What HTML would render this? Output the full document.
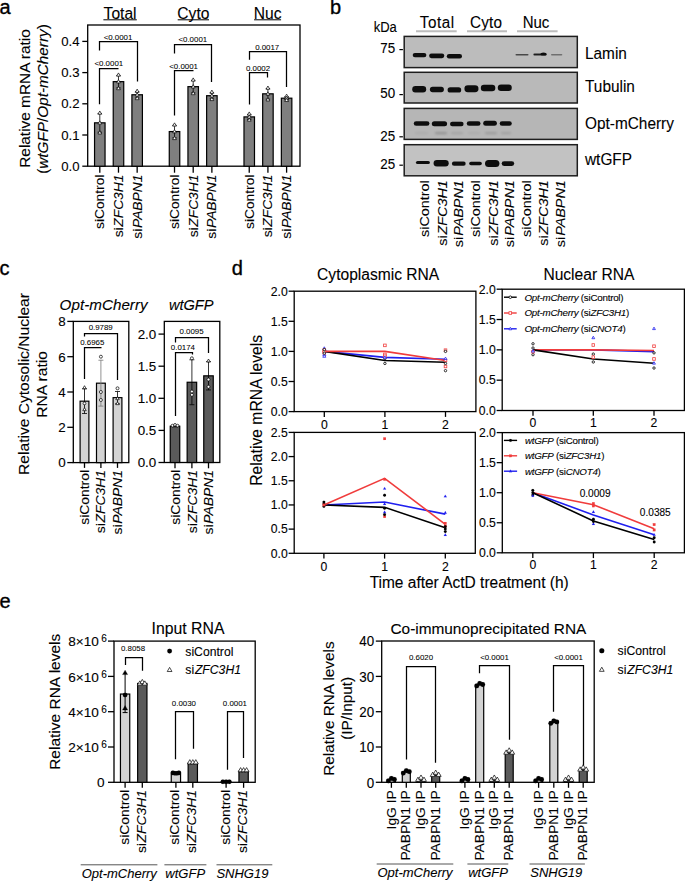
<!DOCTYPE html>
<html><head><meta charset="utf-8"><title>Figure</title>
<style>
html,body{margin:0;padding:0;background:#fff;}
body{width:685px;height:881px;overflow:hidden;}
svg{display:block;font-family:"Liberation Sans",sans-serif;}
text{stroke:#000;stroke-width:0.1px;}
</style></head>
<body>
<svg width="685" height="881" viewBox="0 0 685 881">
<rect x="0" y="0" width="685" height="881" fill="#fff"/>
<text x="-0.6" y="13.8" font-size="20" style="stroke-width:0.35px">a</text>
<rect x="87.7" y="25" width="212.3" height="141.2" fill="none" stroke="#000" stroke-width="1.3" />
<line x1="82.3" y1="166.2" x2="87.7" y2="166.2" stroke="#000" stroke-width="1.3" />
<text x="79.6" y="170.8" font-size="13.2" text-anchor="end" >0.0</text>
<line x1="82.3" y1="135" x2="87.7" y2="135" stroke="#000" stroke-width="1.3" />
<text x="79.6" y="139.6" font-size="13.2" text-anchor="end" >0.1</text>
<line x1="82.3" y1="103.8" x2="87.7" y2="103.8" stroke="#000" stroke-width="1.3" />
<text x="79.6" y="108.4" font-size="13.2" text-anchor="end" >0.2</text>
<line x1="82.3" y1="72.6" x2="87.7" y2="72.6" stroke="#000" stroke-width="1.3" />
<text x="79.6" y="77.2" font-size="13.2" text-anchor="end" >0.3</text>
<line x1="82.3" y1="41.4" x2="87.7" y2="41.4" stroke="#000" stroke-width="1.3" />
<text x="79.6" y="46" font-size="13.2" text-anchor="end" >0.4</text>
<text transform="translate(29.8,98.5) rotate(-90)" font-size="15.4" text-anchor="middle" >Relative mRNA ratio</text>
<text transform="translate(48.2,99) rotate(-90)" font-size="15.3" text-anchor="middle" >(<tspan font-style="italic">wtGFP</tspan>/<tspan font-style="italic">Opt-mCherry</tspan>)</text>
<text x="120.1" y="18.6" font-size="15.6" text-anchor="middle" >Total</text>
<text x="193.4" y="18.6" font-size="15.6" text-anchor="middle" >Cyto</text>
<text x="267.6" y="18.6" font-size="15.6" text-anchor="middle" >Nuc</text>
<line x1="103.4" y1="19.8" x2="136.8" y2="19.8" stroke="#000" stroke-width="1" />
<line x1="177.7" y1="19.8" x2="209" y2="19.8" stroke="#000" stroke-width="1" />
<line x1="254.1" y1="19.8" x2="281.1" y2="19.8" stroke="#000" stroke-width="1" />
<rect x="94.55" y="122.83" width="10.5" height="43.37" fill="#7f7f7f" stroke="#000" stroke-width="1.2" />
<line x1="99.8" y1="113.47" x2="99.8" y2="132.19" stroke="#000" stroke-width="0.8" />
<line x1="97.6" y1="113.47" x2="102" y2="113.47" stroke="#000" stroke-width="0.8" />
<line x1="97.6" y1="132.19" x2="102" y2="132.19" stroke="#000" stroke-width="0.8" />
<polygon points="99.8,110.97 101.7,114.27 97.9,114.27" fill="#fff" stroke="#000" stroke-width="0.7"/>
<polygon points="99.8,120.83 101.7,124.13 97.9,124.13" fill="#fff" stroke="#000" stroke-width="0.7"/>
<polygon points="99.8,130.69 101.7,133.99 97.9,133.99" fill="#fff" stroke="#000" stroke-width="0.7"/>
<line x1="99.8" y1="166.2" x2="99.8" y2="172.7" stroke="#000" stroke-width="1.3" />
<rect x="113.23" y="81.65" width="10.5" height="84.55" fill="#7f7f7f" stroke="#000" stroke-width="1.2" />
<line x1="118.48" y1="75.41" x2="118.48" y2="87.89" stroke="#000" stroke-width="0.8" />
<line x1="116.28" y1="75.41" x2="120.68" y2="75.41" stroke="#000" stroke-width="0.8" />
<line x1="116.28" y1="87.89" x2="120.68" y2="87.89" stroke="#000" stroke-width="0.8" />
<polygon points="118.48,72.91 120.38,76.21 116.58,76.21" fill="#fff" stroke="#000" stroke-width="0.7"/>
<polygon points="118.48,79.65 120.38,82.95 116.58,82.95" fill="#fff" stroke="#000" stroke-width="0.7"/>
<polygon points="118.48,86.39 120.38,89.69 116.58,89.69" fill="#fff" stroke="#000" stroke-width="0.7"/>
<line x1="118.48" y1="166.2" x2="118.48" y2="172.7" stroke="#000" stroke-width="1.3" />
<rect x="131.91" y="94.75" width="10.5" height="71.45" fill="#7f7f7f" stroke="#000" stroke-width="1.2" />
<line x1="137.16" y1="91.63" x2="137.16" y2="97.87" stroke="#000" stroke-width="0.8" />
<line x1="134.96" y1="91.63" x2="139.36" y2="91.63" stroke="#000" stroke-width="0.8" />
<line x1="134.96" y1="97.87" x2="139.36" y2="97.87" stroke="#000" stroke-width="0.8" />
<polygon points="137.16,89.13 139.06,92.43 135.26,92.43" fill="#fff" stroke="#000" stroke-width="0.7"/>
<polygon points="137.16,92.75 139.06,96.05 135.26,96.05" fill="#fff" stroke="#000" stroke-width="0.7"/>
<polygon points="137.16,96.37 139.06,99.67 135.26,99.67" fill="#fff" stroke="#000" stroke-width="0.7"/>
<line x1="137.16" y1="166.2" x2="137.16" y2="172.7" stroke="#000" stroke-width="1.3" />
<rect x="169.27" y="131.57" width="10.5" height="34.63" fill="#7f7f7f" stroke="#000" stroke-width="1.2" />
<line x1="174.52" y1="125.33" x2="174.52" y2="137.81" stroke="#000" stroke-width="0.8" />
<line x1="172.32" y1="125.33" x2="176.72" y2="125.33" stroke="#000" stroke-width="0.8" />
<line x1="172.32" y1="137.81" x2="176.72" y2="137.81" stroke="#000" stroke-width="0.8" />
<polygon points="174.52,122.83 176.42,126.13 172.62,126.13" fill="#fff" stroke="#000" stroke-width="0.7"/>
<polygon points="174.52,129.57 176.42,132.87 172.62,132.87" fill="#fff" stroke="#000" stroke-width="0.7"/>
<polygon points="174.52,136.31 176.42,139.61 172.62,139.61" fill="#fff" stroke="#000" stroke-width="0.7"/>
<line x1="174.52" y1="166.2" x2="174.52" y2="172.7" stroke="#000" stroke-width="1.3" />
<rect x="187.95" y="86.64" width="10.5" height="79.56" fill="#7f7f7f" stroke="#000" stroke-width="1.2" />
<line x1="193.2" y1="80.4" x2="193.2" y2="92.88" stroke="#000" stroke-width="0.8" />
<line x1="191" y1="80.4" x2="195.4" y2="80.4" stroke="#000" stroke-width="0.8" />
<line x1="191" y1="92.88" x2="195.4" y2="92.88" stroke="#000" stroke-width="0.8" />
<polygon points="193.2,77.9 195.1,81.2 191.3,81.2" fill="#fff" stroke="#000" stroke-width="0.7"/>
<polygon points="193.2,84.64 195.1,87.94 191.3,87.94" fill="#fff" stroke="#000" stroke-width="0.7"/>
<polygon points="193.2,91.38 195.1,94.68 191.3,94.68" fill="#fff" stroke="#000" stroke-width="0.7"/>
<line x1="193.2" y1="166.2" x2="193.2" y2="172.7" stroke="#000" stroke-width="1.3" />
<rect x="206.63" y="95.69" width="10.5" height="70.51" fill="#7f7f7f" stroke="#000" stroke-width="1.2" />
<line x1="211.88" y1="92.57" x2="211.88" y2="98.81" stroke="#000" stroke-width="0.8" />
<line x1="209.68" y1="92.57" x2="214.08" y2="92.57" stroke="#000" stroke-width="0.8" />
<line x1="209.68" y1="98.81" x2="214.08" y2="98.81" stroke="#000" stroke-width="0.8" />
<polygon points="211.88,90.07 213.78,93.37 209.98,93.37" fill="#fff" stroke="#000" stroke-width="0.7"/>
<polygon points="211.88,93.69 213.78,96.99 209.98,96.99" fill="#fff" stroke="#000" stroke-width="0.7"/>
<polygon points="211.88,97.31 213.78,100.61 209.98,100.61" fill="#fff" stroke="#000" stroke-width="0.7"/>
<line x1="211.88" y1="166.2" x2="211.88" y2="172.7" stroke="#000" stroke-width="1.3" />
<rect x="243.99" y="116.9" width="10.5" height="49.3" fill="#7f7f7f" stroke="#000" stroke-width="1.2" />
<line x1="249.24" y1="114.41" x2="249.24" y2="119.4" stroke="#000" stroke-width="0.8" />
<line x1="247.04" y1="114.41" x2="251.44" y2="114.41" stroke="#000" stroke-width="0.8" />
<line x1="247.04" y1="119.4" x2="251.44" y2="119.4" stroke="#000" stroke-width="0.8" />
<polygon points="249.24,111.91 251.14,115.21 247.34,115.21" fill="#fff" stroke="#000" stroke-width="0.7"/>
<polygon points="249.24,114.9 251.14,118.2 247.34,118.2" fill="#fff" stroke="#000" stroke-width="0.7"/>
<polygon points="249.24,117.9 251.14,121.2 247.34,121.2" fill="#fff" stroke="#000" stroke-width="0.7"/>
<line x1="249.24" y1="166.2" x2="249.24" y2="172.7" stroke="#000" stroke-width="1.3" />
<rect x="262.67" y="93.82" width="10.5" height="72.38" fill="#7f7f7f" stroke="#000" stroke-width="1.2" />
<line x1="267.92" y1="88.51" x2="267.92" y2="99.12" stroke="#000" stroke-width="0.8" />
<line x1="265.72" y1="88.51" x2="270.12" y2="88.51" stroke="#000" stroke-width="0.8" />
<line x1="265.72" y1="99.12" x2="270.12" y2="99.12" stroke="#000" stroke-width="0.8" />
<polygon points="267.92,86.01 269.82,89.31 266.02,89.31" fill="#fff" stroke="#000" stroke-width="0.7"/>
<polygon points="267.92,91.82 269.82,95.12 266.02,95.12" fill="#fff" stroke="#000" stroke-width="0.7"/>
<polygon points="267.92,97.62 269.82,100.92 266.02,100.92" fill="#fff" stroke="#000" stroke-width="0.7"/>
<line x1="267.92" y1="166.2" x2="267.92" y2="172.7" stroke="#000" stroke-width="1.3" />
<rect x="281.35" y="98.18" width="10.5" height="68.02" fill="#7f7f7f" stroke="#000" stroke-width="1.2" />
<line x1="286.6" y1="96.62" x2="286.6" y2="99.74" stroke="#000" stroke-width="0.8" />
<line x1="284.4" y1="96.62" x2="288.8" y2="96.62" stroke="#000" stroke-width="0.8" />
<line x1="284.4" y1="99.74" x2="288.8" y2="99.74" stroke="#000" stroke-width="0.8" />
<polygon points="286.6,94.12 288.5,97.42 284.7,97.42" fill="#fff" stroke="#000" stroke-width="0.7"/>
<polygon points="286.6,96.18 288.5,99.48 284.7,99.48" fill="#fff" stroke="#000" stroke-width="0.7"/>
<polygon points="286.6,98.24 288.5,101.54 284.7,101.54" fill="#fff" stroke="#000" stroke-width="0.7"/>
<line x1="286.6" y1="166.2" x2="286.6" y2="172.7" stroke="#000" stroke-width="1.3" />
<polyline points="99.5,50.5 99.5,41.5 137.5,41.5 137.5,81.6" fill="none" stroke="#000" stroke-width="1.25" stroke-linejoin="miter"/>
<text x="118" y="39.6" font-size="7.9" text-anchor="middle" style="stroke-width:0.06px" >&lt;0.0001</text>
<polyline points="99.5,104.3 99.5,68.5 118.5,68.5" fill="none" stroke="#000" stroke-width="1.25" stroke-linejoin="miter"/>
<text x="108.8" y="65.9" font-size="7.9" text-anchor="middle" style="stroke-width:0.06px" >&lt;0.0001</text>
<polyline points="174.5,53.5 174.5,44.5 211.5,44.5 211.5,82" fill="none" stroke="#000" stroke-width="1.25" stroke-linejoin="miter"/>
<text x="192.8" y="42" font-size="7.9" text-anchor="middle" style="stroke-width:0.06px" >&lt;0.0001</text>
<polyline points="174.5,115.5 174.5,70.5 193.5,70.5" fill="none" stroke="#000" stroke-width="1.25" stroke-linejoin="miter"/>
<text x="183.6" y="68.6" font-size="7.9" text-anchor="middle" style="stroke-width:0.06px" >&lt;0.0001</text>
<polyline points="249.5,59.7 249.5,51.5 286.5,51.5 286.5,87" fill="none" stroke="#000" stroke-width="1.25" stroke-linejoin="miter"/>
<text x="267.2" y="49.6" font-size="7.9" text-anchor="middle" style="stroke-width:0.06px" >0.0017</text>
<polyline points="249.5,104.4 249.5,72.5 267.5,72.5 267.5,77.6" fill="none" stroke="#000" stroke-width="1.25" stroke-linejoin="miter"/>
<text x="258" y="70.6" font-size="7.9" text-anchor="middle" style="stroke-width:0.06px" >0.0002</text>
<text transform="translate(104.2,174.6) scale(0.87,1) rotate(-90)" font-size="13.8" text-anchor="end" >siControl</text>
<text transform="translate(122.88,174.6) scale(0.87,1) rotate(-90)" font-size="13.8" text-anchor="end" >si<tspan dx="0.7" font-style="italic">ZFC3H1</tspan></text>
<text transform="translate(141.56,174.6) scale(0.87,1) rotate(-90)" font-size="13.8" text-anchor="end" >si<tspan dx="0.7" font-style="italic">PABPN1</tspan></text>
<text transform="translate(178.92,174.6) scale(0.87,1) rotate(-90)" font-size="13.8" text-anchor="end" >siControl</text>
<text transform="translate(197.6,174.6) scale(0.87,1) rotate(-90)" font-size="13.8" text-anchor="end" >si<tspan dx="0.7" font-style="italic">ZFC3H1</tspan></text>
<text transform="translate(216.28,174.6) scale(0.87,1) rotate(-90)" font-size="13.8" text-anchor="end" >si<tspan dx="0.7" font-style="italic">PABPN1</tspan></text>
<text transform="translate(253.64,174.6) scale(0.87,1) rotate(-90)" font-size="13.8" text-anchor="end" >siControl</text>
<text transform="translate(272.32,174.6) scale(0.87,1) rotate(-90)" font-size="13.8" text-anchor="end" >si<tspan dx="0.7" font-style="italic">ZFC3H1</tspan></text>
<text transform="translate(291,174.6) scale(0.87,1) rotate(-90)" font-size="13.8" text-anchor="end" >si<tspan dx="0.7" font-style="italic">PABPN1</tspan></text>
<text x="330" y="14.4" font-size="20" style="stroke-width:0.35px">b</text>
<text transform="translate(373.7,32.4) scale(1,1.14)" font-size="13" >kDa</text>
<text transform="translate(437.3,28) scale(1,1.04)" font-size="15.2" text-anchor="middle" letter-spacing="0.6">Total</text>
<text transform="translate(486,28) scale(1,1.04)" font-size="15.3" text-anchor="middle" letter-spacing="0.2">Cyto</text>
<text transform="translate(536,28) scale(1,1.04)" font-size="15" text-anchor="middle" letter-spacing="0">Nuc</text>
<line x1="416" y1="31.2" x2="456.7" y2="31.2" stroke="#bdbdbd" stroke-width="2" />
<line x1="467" y1="31.2" x2="507" y2="31.2" stroke="#bdbdbd" stroke-width="2" />
<line x1="517" y1="31.2" x2="557.6" y2="31.2" stroke="#bdbdbd" stroke-width="2" />
<rect x="404.2" y="36.4" width="173.1" height="31.2" fill="#bcbcbc" stroke="#1e1e1e" stroke-width="1.5" />
<text transform="translate(585,58.6) scale(1,1.1)" font-size="15.4" >Lamin</text>
<rect x="404.2" y="72.3" width="173.1" height="30.7" fill="#b9b9b9" stroke="#1e1e1e" stroke-width="1.5" />
<text transform="translate(585,92.2) scale(1,1.1)" font-size="15.4" >Tubulin</text>
<rect x="404.2" y="108.4" width="173.1" height="31" fill="#b6b6b6" stroke="#1e1e1e" stroke-width="1.5" />
<text transform="translate(585,128.5) scale(1,1.1)" font-size="15.4" >Opt-mCherry</text>
<rect x="404.2" y="144.7" width="173.1" height="31.1" fill="#c2c2c2" stroke="#1e1e1e" stroke-width="1.5" />
<text transform="translate(585,165.1) scale(1,1.1)" font-size="15.4" >wtGFP</text>
<text transform="translate(395.1,52.6) scale(1,1.12)" font-size="13.4" text-anchor="end" >75</text>
<line x1="399.4" y1="49.6" x2="402.9" y2="49.6" stroke="#000" stroke-width="1.2" />
<text transform="translate(395.1,98.1) scale(1,1.12)" font-size="13.4" text-anchor="end" >50</text>
<line x1="399.4" y1="94.6" x2="402.9" y2="94.6" stroke="#000" stroke-width="1.2" />
<text transform="translate(395.1,140.6) scale(1,1.12)" font-size="13.4" text-anchor="end" >25</text>
<line x1="399.4" y1="136.8" x2="402.9" y2="136.8" stroke="#000" stroke-width="1.2" />
<text transform="translate(395.1,169.2) scale(1,1.12)" font-size="13.4" text-anchor="end" >25</text>
<line x1="399.4" y1="165.2" x2="402.9" y2="165.2" stroke="#000" stroke-width="1.2" />
<defs><filter id="bl" x="-20%" y="-50%" width="140%" height="200%"><feGaussianBlur stdDeviation="0.7"/></filter><filter id="bl2" x="-20%" y="-50%" width="140%" height="200%"><feGaussianBlur stdDeviation="1.0"/></filter></defs>
<rect x="412.7" y="52.9" width="13.7" height="4.4" rx="2.2" fill="#111" opacity="1.0" filter="url(#bl)"/>
<rect x="429.1" y="53.45" width="15.2" height="4.7" rx="2.35" fill="#111" opacity="1.0" filter="url(#bl)"/>
<rect x="446.8" y="53.95" width="15.2" height="4.5" rx="2.25" fill="#111" opacity="1.0" filter="url(#bl)"/>
<rect x="515.5" y="54" width="13" height="1.6" rx="0.8" fill="#222" opacity="0.75" filter="url(#bl)"/>
<rect x="533.4" y="53.55" width="13.2" height="1.9" rx="0.95" fill="#111" opacity="0.9" filter="url(#bl)"/>
<ellipse cx="543.5" cy="54.0" rx="3" ry="1.6" fill="#111" filter="url(#bl)"/>
<rect x="551" y="54.1" width="11.3" height="1.4" rx="0.7" fill="#333" opacity="0.55" filter="url(#bl)"/>
<rect x="412.2" y="86.1" width="14" height="6.4" rx="3.2" fill="#111" opacity="1.0" filter="url(#bl)"/>
<rect x="429.9" y="86.8" width="14" height="5.4" rx="2.7" fill="#111" opacity="1.0" filter="url(#bl)"/>
<rect x="447.6" y="87.3" width="13.6" height="5.2" rx="2.6" fill="#111" opacity="1.0" filter="url(#bl)"/>
<rect x="464.4" y="85.35" width="14.1" height="6.9" rx="3.45" fill="#111" opacity="1.0" filter="url(#bl)"/>
<rect x="480.8" y="84.8" width="14.5" height="6.4" rx="3.2" fill="#111" opacity="1.0" filter="url(#bl)"/>
<rect x="497.8" y="84.5" width="14" height="6.4" rx="3.2" fill="#111" opacity="1.0" filter="url(#bl)"/>
<rect x="413.8" y="121.15" width="15.6" height="4.5" rx="2.25" fill="#111" opacity="1.0" filter="url(#bl)"/>
<rect x="431.8" y="121.3" width="15.3" height="5" rx="2.5" fill="#111" opacity="1.0" filter="url(#bl)"/>
<rect x="450" y="121.8" width="13.6" height="4.4" rx="2.2" fill="#111" opacity="1.0" filter="url(#bl)"/>
<rect x="466.8" y="121.35" width="13.7" height="4.5" rx="2.25" fill="#111" opacity="1.0" filter="url(#bl)"/>
<rect x="483.2" y="120.8" width="13.7" height="5" rx="2.5" fill="#111" opacity="1.0" filter="url(#bl)"/>
<rect x="499.7" y="121.15" width="12.1" height="4.5" rx="2.25" fill="#111" opacity="1.0" filter="url(#bl)"/>
<rect x="415" y="132" width="13" height="2.2" rx="1.1" fill="#444" opacity="0.08" filter="url(#bl2)"/>
<rect x="435" y="132" width="12" height="2.2" rx="1.1" fill="#444" opacity="0.3" filter="url(#bl2)"/>
<rect x="451" y="132" width="12" height="2.2" rx="1.1" fill="#444" opacity="0.15" filter="url(#bl2)"/>
<rect x="468" y="132" width="12" height="2.2" rx="1.1" fill="#444" opacity="0.08" filter="url(#bl2)"/>
<rect x="485" y="132" width="12" height="2.2" rx="1.1" fill="#444" opacity="0.22" filter="url(#bl2)"/>
<rect x="501" y="132" width="10" height="2.2" rx="1.1" fill="#444" opacity="0.18" filter="url(#bl2)"/>
<rect x="415.9" y="160.9" width="14" height="3.2" rx="1.6" fill="#111" opacity="1.0" filter="url(#bl)"/>
<rect x="433.6" y="160" width="15.1" height="6.6" rx="3.3" fill="#111" opacity="1.0" filter="url(#bl)"/>
<rect x="451.9" y="161.6" width="13.8" height="4.2" rx="2.1" fill="#111" opacity="1.0" filter="url(#bl)"/>
<rect x="469.2" y="161.75" width="12.6" height="3.5" rx="1.75" fill="#111" opacity="1.0" filter="url(#bl)"/>
<rect x="485" y="160" width="14.4" height="7" rx="3.5" fill="#111" opacity="1.0" filter="url(#bl)"/>
<rect x="501.7" y="161.3" width="12.5" height="4.6" rx="2.3" fill="#111" opacity="1.0" filter="url(#bl)"/>
<text transform="translate(429.2,180.2) scale(0.86,1) rotate(-90)" font-size="14.4" text-anchor="end" >siControl</text>
<text transform="translate(447.1,180.2) scale(0.86,1) rotate(-90)" font-size="14.4" text-anchor="end" >si<tspan dx="0.9" font-style="italic">ZFC3H1</tspan></text>
<text transform="translate(463.3,180.2) scale(0.86,1) rotate(-90)" font-size="14.4" text-anchor="end" >si<tspan dx="0.9" font-style="italic">PABPN1</tspan></text>
<text transform="translate(480.4,180.2) scale(0.86,1) rotate(-90)" font-size="14.4" text-anchor="end" >siControl</text>
<text transform="translate(497.5,180.2) scale(0.86,1) rotate(-90)" font-size="14.4" text-anchor="end" >si<tspan dx="0.9" font-style="italic">ZFC3H1</tspan></text>
<text transform="translate(513.8,180.2) scale(0.86,1) rotate(-90)" font-size="14.4" text-anchor="end" >si<tspan dx="0.9" font-style="italic">PABPN1</tspan></text>
<text transform="translate(530.9,180.2) scale(0.86,1) rotate(-90)" font-size="14.4" text-anchor="end" >siControl</text>
<text transform="translate(548.2,180.2) scale(0.86,1) rotate(-90)" font-size="14.4" text-anchor="end" >si<tspan dx="0.9" font-style="italic">ZFC3H1</tspan></text>
<text transform="translate(564.5,180.2) scale(0.86,1) rotate(-90)" font-size="14.4" text-anchor="end" >si<tspan dx="0.9" font-style="italic">PABPN1</tspan></text>
<text x="-0.6" y="275.1" font-size="20" style="stroke-width:0.35px">c</text>
<text transform="translate(29.4,384) scale(0.92,1) rotate(-90)" font-size="15.6" text-anchor="middle" >Relative Cytosolic/Nuclear</text>
<text transform="translate(47.3,384.5) scale(0.9,1) rotate(-90)" font-size="15.6" text-anchor="middle" >RNA ratio</text>
<text x="59.6" y="310.4" font-size="15.2" textLength="88"><tspan font-style="italic">Opt-mCherry</tspan></text>
<rect x="73.3" y="321.4" width="55.5" height="141.2" fill="none" stroke="#000" stroke-width="1.3" />
<line x1="67.3" y1="462.6" x2="73.3" y2="462.6" stroke="#000" stroke-width="1.3" />
<text x="65.8" y="467.4" font-size="13.4" text-anchor="end" >0</text>
<line x1="67.3" y1="427.3" x2="73.3" y2="427.3" stroke="#000" stroke-width="1.3" />
<text x="65.8" y="432.1" font-size="13.4" text-anchor="end" >2</text>
<line x1="67.3" y1="392" x2="73.3" y2="392" stroke="#000" stroke-width="1.3" />
<text x="65.8" y="396.8" font-size="13.4" text-anchor="end" >4</text>
<line x1="67.3" y1="356.7" x2="73.3" y2="356.7" stroke="#000" stroke-width="1.3" />
<text x="65.8" y="361.5" font-size="13.4" text-anchor="end" >6</text>
<line x1="67.3" y1="321.4" x2="73.3" y2="321.4" stroke="#000" stroke-width="1.3" />
<text x="65.8" y="326.2" font-size="13.4" text-anchor="end" >8</text>
<rect x="80.1" y="401.18" width="8.8" height="61.42" fill="#d3d3d3" stroke="#000" stroke-width="1.2" />
<line x1="84.5" y1="388.82" x2="84.5" y2="413.53" stroke="#000" stroke-width="0.8" />
<line x1="82" y1="388.82" x2="87" y2="388.82" stroke="#000" stroke-width="0.8" />
<line x1="82" y1="413.53" x2="87" y2="413.53" stroke="#000" stroke-width="0.8" />
<line x1="84.5" y1="462.6" x2="84.5" y2="467.9" stroke="#000" stroke-width="1.3" />
<rect x="96.5" y="383.18" width="8.8" height="79.43" fill="#d3d3d3" stroke="#000" stroke-width="1.2" />
<line x1="100.9" y1="360.23" x2="100.9" y2="406.12" stroke="#777" stroke-width="0.8" />
<line x1="98.4" y1="360.23" x2="103.4" y2="360.23" stroke="#777" stroke-width="0.8" />
<line x1="98.4" y1="406.12" x2="103.4" y2="406.12" stroke="#777" stroke-width="0.8" />
<line x1="100.9" y1="462.6" x2="100.9" y2="467.9" stroke="#000" stroke-width="1.3" />
<rect x="113.1" y="397.65" width="8.8" height="64.95" fill="#d3d3d3" stroke="#000" stroke-width="1.2" />
<line x1="117.5" y1="391.47" x2="117.5" y2="403.83" stroke="#000" stroke-width="0.8" />
<line x1="115" y1="391.47" x2="120" y2="391.47" stroke="#000" stroke-width="0.8" />
<line x1="115" y1="403.83" x2="120" y2="403.83" stroke="#000" stroke-width="0.8" />
<line x1="117.5" y1="462.6" x2="117.5" y2="467.9" stroke="#000" stroke-width="1.3" />
<polygon points="84.5,385.7 86.21,388.67 82.79,388.67" fill="#fff" stroke="#000" stroke-width="0.7"/>
<circle cx="84.5" cy="403.4" r="1.4" fill="#fff" stroke="#000" stroke-width="0.7"/>
<polygon points="84.5,407.7 86.21,410.67 82.79,410.67" fill="#fff" stroke="#000" stroke-width="0.7"/>
<circle cx="100.9" cy="356.7" r="1.5" fill="#fff" stroke="#000" stroke-width="0.7"/>
<circle cx="100.9" cy="392" r="1.5" fill="#fff" stroke="#000" stroke-width="0.7"/>
<circle cx="100.9" cy="400" r="1.5" fill="#fff" stroke="#000" stroke-width="0.7"/>
<circle cx="117.5" cy="388.3" r="1.5" fill="#fff" stroke="#000" stroke-width="0.7"/>
<polygon points="117.5,396.7 119.21,399.67 115.79,399.67" fill="#fff" stroke="#000" stroke-width="0.7"/>
<polygon points="117.5,401.7 119.21,404.67 115.79,404.67" fill="#fff" stroke="#000" stroke-width="0.7"/>
<polyline points="84.5,336.5 84.5,333.5 117.5,333.5 117.5,380" fill="none" stroke="#000" stroke-width="1.25" stroke-linejoin="miter"/>
<text x="100.7" y="329.6" font-size="7.9" text-anchor="middle" style="stroke-width:0.06px" >0.9789</text>
<polyline points="84.5,378.9 84.5,347.5 101.5,347.5" fill="none" stroke="#000" stroke-width="1.25" stroke-linejoin="miter"/>
<text x="92.3" y="344.8" font-size="7.9" text-anchor="middle" style="stroke-width:0.06px" >0.6965</text>
<text transform="translate(88.8,470) scale(0.87,1) rotate(-90)" font-size="13.9" text-anchor="end" >siControl</text>
<text transform="translate(105.2,470) scale(0.87,1) rotate(-90)" font-size="13.9" text-anchor="end" >si<tspan dx="0.7" font-style="italic">ZFC3H1</tspan></text>
<text transform="translate(121.8,470) scale(0.87,1) rotate(-90)" font-size="13.9" text-anchor="end" >si<tspan dx="0.7" font-style="italic">PABPN1</tspan></text>
<text x="191.2" y="310.4" font-size="14.6" text-anchor="middle" ><tspan font-style="italic">wtGFP</tspan></text>
<rect x="164.3" y="321.4" width="55.5" height="141.1" fill="none" stroke="#000" stroke-width="1.3" />
<line x1="158.5" y1="462.5" x2="164.3" y2="462.5" stroke="#000" stroke-width="1.3" />
<text x="156.3" y="467.3" font-size="13.4" text-anchor="end" >0.0</text>
<line x1="158.5" y1="430.4" x2="164.3" y2="430.4" stroke="#000" stroke-width="1.3" />
<text x="156.3" y="435.2" font-size="13.4" text-anchor="end" >0.5</text>
<line x1="158.5" y1="398.3" x2="164.3" y2="398.3" stroke="#000" stroke-width="1.3" />
<text x="156.3" y="403.1" font-size="13.4" text-anchor="end" >1.0</text>
<line x1="158.5" y1="366.2" x2="164.3" y2="366.2" stroke="#000" stroke-width="1.3" />
<text x="156.3" y="371" font-size="13.4" text-anchor="end" >1.5</text>
<line x1="158.5" y1="334.1" x2="164.3" y2="334.1" stroke="#000" stroke-width="1.3" />
<text x="156.3" y="338.9" font-size="13.4" text-anchor="end" >2.0</text>
<rect x="170.25" y="426.23" width="9.5" height="36.27" fill="#5a5a5a" stroke="#000" stroke-width="1.2" />
<line x1="175" y1="425.58" x2="175" y2="426.87" stroke="#000" stroke-width="0.8" />
<line x1="172.5" y1="425.58" x2="177.5" y2="425.58" stroke="#000" stroke-width="0.8" />
<line x1="172.5" y1="426.87" x2="177.5" y2="426.87" stroke="#000" stroke-width="0.8" />
<line x1="175" y1="462.5" x2="175" y2="468.3" stroke="#000" stroke-width="1.3" />
<rect x="187.15" y="382.25" width="9.5" height="80.25" fill="#5a5a5a" stroke="#000" stroke-width="1.2" />
<line x1="191.9" y1="359.78" x2="191.9" y2="404.72" stroke="#000" stroke-width="0.8" />
<line x1="189.4" y1="359.78" x2="194.4" y2="359.78" stroke="#000" stroke-width="0.8" />
<line x1="189.4" y1="404.72" x2="194.4" y2="404.72" stroke="#000" stroke-width="0.8" />
<line x1="191.9" y1="462.5" x2="191.9" y2="468.3" stroke="#000" stroke-width="1.3" />
<rect x="203.75" y="375.83" width="9.5" height="86.67" fill="#5a5a5a" stroke="#000" stroke-width="1.2" />
<line x1="208.5" y1="361.71" x2="208.5" y2="389.95" stroke="#000" stroke-width="0.8" />
<line x1="206" y1="361.71" x2="211" y2="361.71" stroke="#000" stroke-width="0.8" />
<line x1="206" y1="389.95" x2="211" y2="389.95" stroke="#000" stroke-width="0.8" />
<line x1="208.5" y1="462.5" x2="208.5" y2="468.3" stroke="#000" stroke-width="1.3" />
<circle cx="172.5" cy="425.65" r="1.4" fill="#fff" stroke="#000" stroke-width="0.7"/>
<circle cx="175" cy="424.9" r="1.4" fill="#fff" stroke="#000" stroke-width="0.7"/>
<circle cx="177.5" cy="425.65" r="1.4" fill="#fff" stroke="#000" stroke-width="0.7"/>
<circle cx="191.9" cy="358.3" r="1.5" fill="#fff" stroke="#000" stroke-width="0.7"/>
<circle cx="191.9" cy="391.5" r="1.5" fill="#fff" stroke="#000" stroke-width="0.7"/>
<circle cx="191.9" cy="394.8" r="1.5" fill="#fff" stroke="#000" stroke-width="0.7"/>
<polygon points="208.5,359 210.21,361.97 206.79,361.97" fill="#fff" stroke="#000" stroke-width="0.7"/>
<circle cx="208.5" cy="379.5" r="1.5" fill="#fff" stroke="#000" stroke-width="0.7"/>
<circle cx="208.5" cy="386.8" r="1.5" fill="#fff" stroke="#000" stroke-width="0.7"/>
<polyline points="175.5,342.6 175.5,337.5 208.5,337.5 208.5,353" fill="none" stroke="#000" stroke-width="1.25" stroke-linejoin="miter"/>
<text x="191.6" y="333.8" font-size="7.9" text-anchor="middle" style="stroke-width:0.06px" >0.0095</text>
<polyline points="175.5,416 175.5,352.5 192.5,352.5 192.5,354.5" fill="none" stroke="#000" stroke-width="1.25" stroke-linejoin="miter"/>
<text x="182.9" y="349.9" font-size="7.9" text-anchor="middle" style="stroke-width:0.06px" >0.0174</text>
<text transform="translate(179.7,470) scale(0.87,1) rotate(-90)" font-size="13.9" text-anchor="end" >siControl</text>
<text transform="translate(196.6,470) scale(0.87,1) rotate(-90)" font-size="13.9" text-anchor="end" >si<tspan dx="0.7" font-style="italic">ZFC3H1</tspan></text>
<text transform="translate(213.2,470) scale(0.87,1) rotate(-90)" font-size="13.9" text-anchor="end" >si<tspan dx="0.7" font-style="italic">PABPN1</tspan></text>
<text x="231.7" y="275" font-size="20" style="stroke-width:0.35px">d</text>
<text x="378.2" y="280.2" font-size="15.6" text-anchor="middle" >Cytoplasmic RNA</text>
<text x="588.9" y="280.2" font-size="15.6" text-anchor="middle" >Nuclear RNA</text>
<text transform="translate(262,410.3) rotate(-90)" font-size="15.7" text-anchor="middle" >Relative mRNA levels</text>
<text transform="translate(469.2,588.2) scale(1,1.1)" font-size="15.5" text-anchor="middle" >Time after ActD treatment (h)</text>
<rect x="294.2" y="291.2" width="181.7" height="120.4" fill="none" stroke="#000" stroke-width="1.3" />
<line x1="288.6" y1="411.6" x2="294.2" y2="411.6" stroke="#000" stroke-width="1.3" />
<text x="287.8" y="415.9" font-size="12.2" text-anchor="end" >0.0</text>
<line x1="288.6" y1="381.5" x2="294.2" y2="381.5" stroke="#000" stroke-width="1.3" />
<text x="287.8" y="385.8" font-size="12.2" text-anchor="end" >0.5</text>
<line x1="288.6" y1="351.4" x2="294.2" y2="351.4" stroke="#000" stroke-width="1.3" />
<text x="287.8" y="355.7" font-size="12.2" text-anchor="end" >1.0</text>
<line x1="288.6" y1="321.3" x2="294.2" y2="321.3" stroke="#000" stroke-width="1.3" />
<text x="287.8" y="325.6" font-size="12.2" text-anchor="end" >1.5</text>
<line x1="288.6" y1="291.2" x2="294.2" y2="291.2" stroke="#000" stroke-width="1.3" />
<text x="287.8" y="295.5" font-size="12.2" text-anchor="end" >2.0</text>
<line x1="324.3" y1="411.6" x2="324.3" y2="416.9" stroke="#000" stroke-width="1.3" />
<text x="324.3" y="428.6" font-size="12.2" text-anchor="middle" >0</text>
<line x1="384.9" y1="411.6" x2="384.9" y2="416.9" stroke="#000" stroke-width="1.3" />
<text x="384.9" y="428.6" font-size="12.2" text-anchor="middle" >1</text>
<line x1="445.5" y1="411.6" x2="445.5" y2="416.9" stroke="#000" stroke-width="1.3" />
<text x="445.5" y="428.6" font-size="12.2" text-anchor="middle" >2</text>
<rect x="502.2" y="289.2" width="182.2" height="121.3" fill="none" stroke="#000" stroke-width="1.3" />
<line x1="496.6" y1="410.5" x2="502.2" y2="410.5" stroke="#000" stroke-width="1.3" />
<text x="495.8" y="414.8" font-size="12.2" text-anchor="end" >0.0</text>
<line x1="496.6" y1="380.18" x2="502.2" y2="380.18" stroke="#000" stroke-width="1.3" />
<text x="495.8" y="384.48" font-size="12.2" text-anchor="end" >0.5</text>
<line x1="496.6" y1="349.85" x2="502.2" y2="349.85" stroke="#000" stroke-width="1.3" />
<text x="495.8" y="354.15" font-size="12.2" text-anchor="end" >1.0</text>
<line x1="496.6" y1="319.52" x2="502.2" y2="319.52" stroke="#000" stroke-width="1.3" />
<text x="495.8" y="323.82" font-size="12.2" text-anchor="end" >1.5</text>
<line x1="496.6" y1="289.2" x2="502.2" y2="289.2" stroke="#000" stroke-width="1.3" />
<text x="495.8" y="293.5" font-size="12.2" text-anchor="end" >2.0</text>
<line x1="533" y1="410.5" x2="533" y2="415.8" stroke="#000" stroke-width="1.3" />
<text x="533" y="427.3" font-size="12.2" text-anchor="middle" >0</text>
<line x1="593.3" y1="410.5" x2="593.3" y2="415.8" stroke="#000" stroke-width="1.3" />
<text x="593.3" y="427.3" font-size="12.2" text-anchor="middle" >1</text>
<line x1="654" y1="410.5" x2="654" y2="415.8" stroke="#000" stroke-width="1.3" />
<text x="654" y="427.3" font-size="12.2" text-anchor="middle" >2</text>
<rect x="294.2" y="432.4" width="181.1" height="120.9" fill="none" stroke="#000" stroke-width="1.3" />
<line x1="288.6" y1="553.3" x2="294.2" y2="553.3" stroke="#000" stroke-width="1.3" />
<text x="287.8" y="557.6" font-size="12.2" text-anchor="end" >0.0</text>
<line x1="288.6" y1="529.12" x2="294.2" y2="529.12" stroke="#000" stroke-width="1.3" />
<text x="287.8" y="533.42" font-size="12.2" text-anchor="end" >0.5</text>
<line x1="288.6" y1="504.94" x2="294.2" y2="504.94" stroke="#000" stroke-width="1.3" />
<text x="287.8" y="509.24" font-size="12.2" text-anchor="end" >1.0</text>
<line x1="288.6" y1="480.76" x2="294.2" y2="480.76" stroke="#000" stroke-width="1.3" />
<text x="287.8" y="485.06" font-size="12.2" text-anchor="end" >1.5</text>
<line x1="288.6" y1="456.58" x2="294.2" y2="456.58" stroke="#000" stroke-width="1.3" />
<text x="287.8" y="460.88" font-size="12.2" text-anchor="end" >2.0</text>
<line x1="288.6" y1="432.4" x2="294.2" y2="432.4" stroke="#000" stroke-width="1.3" />
<text x="287.8" y="436.7" font-size="12.2" text-anchor="end" >2.5</text>
<line x1="323.9" y1="553.3" x2="323.9" y2="558.6" stroke="#000" stroke-width="1.3" />
<text x="323.9" y="570.9" font-size="12.2" text-anchor="middle" >0</text>
<line x1="384.6" y1="553.3" x2="384.6" y2="558.6" stroke="#000" stroke-width="1.3" />
<text x="384.6" y="570.9" font-size="12.2" text-anchor="middle" >1</text>
<line x1="445.3" y1="553.3" x2="445.3" y2="558.6" stroke="#000" stroke-width="1.3" />
<text x="445.3" y="570.9" font-size="12.2" text-anchor="middle" >2</text>
<rect x="502.3" y="432.6" width="182.1" height="120.2" fill="none" stroke="#000" stroke-width="1.3" />
<line x1="496.7" y1="552.8" x2="502.3" y2="552.8" stroke="#000" stroke-width="1.3" />
<text x="495.9" y="557.1" font-size="12.2" text-anchor="end" >0.0</text>
<line x1="496.7" y1="522.75" x2="502.3" y2="522.75" stroke="#000" stroke-width="1.3" />
<text x="495.9" y="527.05" font-size="12.2" text-anchor="end" >0.5</text>
<line x1="496.7" y1="492.7" x2="502.3" y2="492.7" stroke="#000" stroke-width="1.3" />
<text x="495.9" y="497" font-size="12.2" text-anchor="end" >1.0</text>
<line x1="496.7" y1="462.65" x2="502.3" y2="462.65" stroke="#000" stroke-width="1.3" />
<text x="495.9" y="466.95" font-size="12.2" text-anchor="end" >1.5</text>
<line x1="496.7" y1="432.6" x2="502.3" y2="432.6" stroke="#000" stroke-width="1.3" />
<text x="495.9" y="436.9" font-size="12.2" text-anchor="end" >2.0</text>
<line x1="532.8" y1="552.8" x2="532.8" y2="558.1" stroke="#000" stroke-width="1.3" />
<text x="532.8" y="569.1" font-size="12.2" text-anchor="middle" >0</text>
<line x1="593.4" y1="552.8" x2="593.4" y2="558.1" stroke="#000" stroke-width="1.3" />
<text x="593.4" y="569.1" font-size="12.2" text-anchor="middle" >1</text>
<line x1="654.2" y1="552.8" x2="654.2" y2="558.1" stroke="#000" stroke-width="1.3" />
<text x="654.2" y="569.1" font-size="12.2" text-anchor="middle" >2</text>
<polyline points="324.3,351.4 384.9,357.42 445.5,359.23" fill="none" stroke="#1f1fef" stroke-width="1.6" stroke-linejoin="miter"/>
<polyline points="324.3,351.4 384.9,360.43 445.5,362.24" fill="none" stroke="#000" stroke-width="1.6" stroke-linejoin="miter"/>
<polyline points="324.3,351.4 384.9,351.4 445.5,360.43" fill="none" stroke="#f03c3c" stroke-width="1.6" stroke-linejoin="miter"/>
<polygon points="324.3,346.79 325.82,349.43 322.78,349.43" fill="#fff" stroke="#1f1fef" stroke-width="0.8"/>
<polygon points="324.3,352.81 325.82,355.45 322.78,355.45" fill="#fff" stroke="#1f1fef" stroke-width="0.8"/>
<polygon points="324.3,354.62 325.82,357.26 322.78,357.26" fill="#fff" stroke="#1f1fef" stroke-width="0.8"/>
<rect x="323" y="348.9" width="2.6" height="2.6" fill="#fff" stroke="#f03c3c" stroke-width="0.8"/>
<rect x="323" y="351.3" width="2.6" height="2.6" fill="#fff" stroke="#f03c3c" stroke-width="0.8"/>
<rect x="323" y="350.1" width="2.6" height="2.6" fill="#fff" stroke="#f03c3c" stroke-width="0.8"/>
<circle cx="324.3" cy="349.59" r="1.2" fill="#fff" stroke="#000" stroke-width="0.8"/>
<circle cx="324.3" cy="353.21" r="1.2" fill="#fff" stroke="#000" stroke-width="0.8"/>
<rect x="383.6" y="344.08" width="2.6" height="2.6" fill="#fff" stroke="#f03c3c" stroke-width="0.8"/>
<rect x="383.6" y="353.11" width="2.6" height="2.6" fill="#fff" stroke="#f03c3c" stroke-width="0.8"/>
<rect x="383.6" y="354.92" width="2.6" height="2.6" fill="#fff" stroke="#f03c3c" stroke-width="0.8"/>
<circle cx="384.9" cy="358.62" r="1.2" fill="#fff" stroke="#000" stroke-width="0.8"/>
<circle cx="384.9" cy="363.44" r="1.2" fill="#fff" stroke="#000" stroke-width="0.8"/>
<polygon points="384.9,355.92 386.32,358.4 383.47,358.4" fill="#fff" stroke="#1f1fef" stroke-width="0.8"/>
<rect x="444.2" y="348.9" width="2.6" height="2.6" fill="#fff" stroke="#f03c3c" stroke-width="0.8"/>
<rect x="444.2" y="359.13" width="2.6" height="2.6" fill="#fff" stroke="#f03c3c" stroke-width="0.8"/>
<rect x="444.2" y="365.15" width="2.6" height="2.6" fill="#fff" stroke="#f03c3c" stroke-width="0.8"/>
<circle cx="445.5" cy="351.4" r="1.2" fill="#fff" stroke="#000" stroke-width="0.8"/>
<circle cx="445.5" cy="363.44" r="1.2" fill="#fff" stroke="#000" stroke-width="0.8"/>
<circle cx="445.5" cy="370.66" r="1.2" fill="#fff" stroke="#000" stroke-width="0.8"/>
<polygon points="445.5,357.12 446.93,359.6 444.07,359.6" fill="#fff" stroke="#1f1fef" stroke-width="0.8"/>
<polyline points="533,349.85 593.3,349.85 654,351.67" fill="none" stroke="#1f1fef" stroke-width="1.6" stroke-linejoin="miter"/>
<polyline points="533,349.85 593.3,349.85 654,350.46" fill="none" stroke="#f03c3c" stroke-width="1.6" stroke-linejoin="miter"/>
<polyline points="533,349.85 593.3,358.95 654,363.19" fill="none" stroke="#000" stroke-width="1.6" stroke-linejoin="miter"/>
<circle cx="533" cy="343.78" r="1.2" fill="#fff" stroke="#000" stroke-width="0.8"/>
<circle cx="533" cy="348.03" r="1.2" fill="#fff" stroke="#000" stroke-width="0.8"/>
<circle cx="533" cy="354.7" r="1.2" fill="#fff" stroke="#000" stroke-width="0.8"/>
<rect x="531.7" y="350.37" width="2.6" height="2.6" fill="#fff" stroke="#f03c3c" stroke-width="0.8"/>
<polygon points="533,349.56 534.42,352.04 531.58,352.04" fill="#fff" stroke="#1f1fef" stroke-width="0.8"/>
<polygon points="593.3,336.22 594.72,338.7 591.88,338.7" fill="#fff" stroke="#1f1fef" stroke-width="0.8"/>
<rect x="592" y="343.7" width="2.6" height="2.6" fill="#fff" stroke="#f03c3c" stroke-width="0.8"/>
<circle cx="593.3" cy="354.1" r="1.2" fill="#fff" stroke="#000" stroke-width="0.8"/>
<circle cx="593.3" cy="361.98" r="1.2" fill="#fff" stroke="#000" stroke-width="0.8"/>
<rect x="592" y="355.83" width="2.6" height="2.6" fill="#fff" stroke="#f03c3c" stroke-width="0.8"/>
<polygon points="654,327.12 655.42,329.6 652.58,329.6" fill="#fff" stroke="#1f1fef" stroke-width="0.8"/>
<rect x="652.7" y="344.91" width="2.6" height="2.6" fill="#fff" stroke="#f03c3c" stroke-width="0.8"/>
<rect x="652.7" y="357.65" width="2.6" height="2.6" fill="#fff" stroke="#f03c3c" stroke-width="0.8"/>
<circle cx="654" cy="352.88" r="1.2" fill="#fff" stroke="#000" stroke-width="0.8"/>
<circle cx="654" cy="368.05" r="1.2" fill="#fff" stroke="#000" stroke-width="0.8"/>
<polygon points="654,361.69 655.42,364.17 652.58,364.17" fill="#fff" stroke="#1f1fef" stroke-width="0.8"/>
<line x1="504" y1="297.2" x2="516.7" y2="297.2" stroke="#000" stroke-width="1.4" />
<circle cx="510.3" cy="297.2" r="1.3" fill="#fff" stroke="#000" stroke-width="0.8"/>
<text x="524.5" y="300.5" font-size="9.8" letter-spacing="-0.25"><tspan font-style="italic">Opt-mCherry</tspan> (siControl)</text>
<line x1="504" y1="313" x2="516.7" y2="313" stroke="#f03c3c" stroke-width="1.4" />
<rect x="509" y="311.7" width="2.6" height="2.6" fill="#fff" stroke="#f03c3c" stroke-width="0.8"/>
<text x="524.5" y="316.3" font-size="9.8" letter-spacing="-0.25"><tspan font-style="italic">Opt-mCherry</tspan> (si<tspan font-style="italic">ZFC3H1</tspan>)</text>
<line x1="504" y1="328.8" x2="516.7" y2="328.8" stroke="#1f1fef" stroke-width="1.4" />
<polygon points="510.3,327.3 511.73,329.78 508.88,329.78" fill="#fff" stroke="#1f1fef" stroke-width="0.8"/>
<text x="524.5" y="332.1" font-size="9.8" letter-spacing="-0.25"><tspan font-style="italic">Opt-mCherry</tspan> (si<tspan font-style="italic">CNOT4</tspan>)</text>
<polyline points="323.9,504.94 384.6,502.04 445.3,514.13" fill="none" stroke="#1f1fef" stroke-width="1.6" stroke-linejoin="miter"/>
<polyline points="323.9,504.94 384.6,507.36 445.3,527.67" fill="none" stroke="#000" stroke-width="1.6" stroke-linejoin="miter"/>
<polyline points="323.9,504.94 384.6,478.34 445.3,524.28" fill="none" stroke="#f03c3c" stroke-width="1.6" stroke-linejoin="miter"/>
<circle cx="323.9" cy="502.04" r="1.4" fill="#000" stroke="#000" stroke-width="0.1"/>
<circle cx="323.9" cy="503.97" r="1.4" fill="#000" stroke="#000" stroke-width="0.1"/>
<circle cx="323.9" cy="506.39" r="1.4" fill="#000" stroke="#000" stroke-width="0.1"/>
<rect x="322.6" y="503.64" width="2.6" height="2.6" fill="#f03c3c" stroke="#f03c3c" stroke-width="0.1"/>
<rect x="383.3" y="437.39" width="2.6" height="2.6" fill="#f03c3c" stroke="#f03c3c" stroke-width="0.1"/>
<rect x="383.3" y="478.01" width="2.6" height="2.6" fill="#f03c3c" stroke="#f03c3c" stroke-width="0.1"/>
<rect x="383.3" y="515.25" width="2.6" height="2.6" fill="#f03c3c" stroke="#f03c3c" stroke-width="0.1"/>
<polygon points="384.6,486.9 386.12,489.54 383.08,489.54" fill="#1f1fef" stroke="#1f1fef" stroke-width="0.1"/>
<polygon points="384.6,502.37 386.12,505.01 383.08,505.01" fill="#1f1fef" stroke="#1f1fef" stroke-width="0.1"/>
<polygon points="384.6,510.59 386.12,513.23 383.08,513.23" fill="#1f1fef" stroke="#1f1fef" stroke-width="0.1"/>
<circle cx="384.6" cy="495.27" r="1.4" fill="#000" stroke="#000" stroke-width="0.1"/>
<circle cx="384.6" cy="508.33" r="1.4" fill="#000" stroke="#000" stroke-width="0.1"/>
<circle cx="384.6" cy="514.61" r="1.4" fill="#000" stroke="#000" stroke-width="0.1"/>
<polygon points="445.3,494.64 446.82,497.28 443.78,497.28" fill="#1f1fef" stroke="#1f1fef" stroke-width="0.1"/>
<polygon points="445.3,511.08 446.82,513.72 443.78,513.72" fill="#1f1fef" stroke="#1f1fef" stroke-width="0.1"/>
<polygon points="445.3,533.32 446.82,535.96 443.78,535.96" fill="#1f1fef" stroke="#1f1fef" stroke-width="0.1"/>
<rect x="444" y="522.02" width="2.6" height="2.6" fill="#f03c3c" stroke="#f03c3c" stroke-width="0.1"/>
<rect x="444" y="524.92" width="2.6" height="2.6" fill="#f03c3c" stroke="#f03c3c" stroke-width="0.1"/>
<circle cx="445.3" cy="526.7" r="1.4" fill="#000" stroke="#000" stroke-width="0.1"/>
<circle cx="445.3" cy="529.12" r="1.4" fill="#000" stroke="#000" stroke-width="0.1"/>
<circle cx="445.3" cy="531.54" r="1.4" fill="#000" stroke="#000" stroke-width="0.1"/>
<polyline points="532.8,492.7 593.4,514.94 654.2,534.77" fill="none" stroke="#1f1fef" stroke-width="1.6" stroke-linejoin="miter"/>
<polyline points="532.8,492.7 593.4,504.72 654.2,528.76" fill="none" stroke="#f03c3c" stroke-width="1.6" stroke-linejoin="miter"/>
<polyline points="532.8,492.7 593.4,520.95 654.2,539.58" fill="none" stroke="#000" stroke-width="1.6" stroke-linejoin="miter"/>
<circle cx="532.8" cy="490.3" r="1.4" fill="#000" stroke="#000" stroke-width="0.1"/>
<circle cx="532.8" cy="492.7" r="1.4" fill="#000" stroke="#000" stroke-width="0.1"/>
<circle cx="532.8" cy="495.1" r="1.4" fill="#000" stroke="#000" stroke-width="0.1"/>
<polygon points="532.8,494.2 534.22,496.68 531.38,496.68" fill="#1f1fef" stroke="#1f1fef" stroke-width="0.1"/>
<rect x="592.1" y="502.22" width="2.6" height="2.6" fill="#f03c3c" stroke="#f03c3c" stroke-width="0.1"/>
<rect x="592.1" y="504.62" width="2.6" height="2.6" fill="#f03c3c" stroke="#f03c3c" stroke-width="0.1"/>
<polygon points="593.4,510.33 594.92,512.97 591.88,512.97" fill="#1f1fef" stroke="#1f1fef" stroke-width="0.1"/>
<polygon points="593.4,522.35 594.92,524.99 591.88,524.99" fill="#1f1fef" stroke="#1f1fef" stroke-width="0.1"/>
<circle cx="593.4" cy="519.14" r="1.4" fill="#000" stroke="#000" stroke-width="0.1"/>
<circle cx="593.4" cy="521.55" r="1.4" fill="#000" stroke="#000" stroke-width="0.1"/>
<rect x="652.9" y="523.25" width="2.6" height="2.6" fill="#f03c3c" stroke="#f03c3c" stroke-width="0.1"/>
<rect x="652.9" y="528.66" width="2.6" height="2.6" fill="#f03c3c" stroke="#f03c3c" stroke-width="0.1"/>
<polygon points="654.2,533.17 655.72,535.81 652.68,535.81" fill="#1f1fef" stroke="#1f1fef" stroke-width="0.1"/>
<circle cx="654.2" cy="537.77" r="1.4" fill="#000" stroke="#000" stroke-width="0.1"/>
<circle cx="654.2" cy="541.98" r="1.4" fill="#000" stroke="#000" stroke-width="0.1"/>
<text x="595.1" y="497" font-size="10.1" text-anchor="middle" >0.0009</text>
<text x="655.3" y="516" font-size="10.1" text-anchor="middle" >0.0385</text>
<line x1="503.9" y1="440.4" x2="517.1" y2="440.4" stroke="#000" stroke-width="1.4" />
<circle cx="510.5" cy="440.4" r="1.4" fill="#000" stroke="#000" stroke-width="0.1"/>
<text x="524.9" y="443.7" font-size="9.8" letter-spacing="-0.25"><tspan font-style="italic">wtGFP</tspan> (siControl)</text>
<line x1="503.9" y1="455.8" x2="517.1" y2="455.8" stroke="#f03c3c" stroke-width="1.4" />
<rect x="509.2" y="454.5" width="2.6" height="2.6" fill="#f03c3c" stroke="#f03c3c" stroke-width="0.1"/>
<text x="524.9" y="459.1" font-size="9.8" letter-spacing="-0.25"><tspan font-style="italic">wtGFP</tspan> (si<tspan font-style="italic">ZFC3H1</tspan>)</text>
<line x1="503.9" y1="471.2" x2="517.1" y2="471.2" stroke="#1f1fef" stroke-width="1.4" />
<polygon points="510.5,469.6 512.02,472.24 508.98,472.24" fill="#1f1fef" stroke="#1f1fef" stroke-width="0.1"/>
<text x="524.9" y="474.5" font-size="9.8" letter-spacing="-0.25"><tspan font-style="italic">wtGFP</tspan> (si<tspan font-style="italic">CNOT4</tspan>)</text>
<text x="-0.6" y="607.8" font-size="20" style="stroke-width:0.35px">e</text>
<text x="188" y="633.8" font-size="15.8" text-anchor="middle" >Input RNA</text>
<text transform="translate(59.8,701.8) rotate(-90)" font-size="15.5" text-anchor="middle" >Relative RNA levels</text>
<rect x="114" y="641.1" width="141.2" height="141.2" fill="none" stroke="#000" stroke-width="1.3" />
<line x1="108" y1="782.3" x2="114" y2="782.3" stroke="#000" stroke-width="1.3" />
<text x="104.6" y="787.2" font-size="13.6" text-anchor="end" >0</text>
<line x1="108" y1="747" x2="114" y2="747" stroke="#000" stroke-width="1.3" />
<text x="98.8" y="752.1" font-size="13.6" text-anchor="end" >2×10</text>
<text x="101.3" y="748.3" font-size="10" >6</text>
<line x1="108" y1="711.7" x2="114" y2="711.7" stroke="#000" stroke-width="1.3" />
<text x="98.8" y="716.8" font-size="13.6" text-anchor="end" >4×10</text>
<text x="101.3" y="713" font-size="10" >6</text>
<line x1="108" y1="676.4" x2="114" y2="676.4" stroke="#000" stroke-width="1.3" />
<text x="98.8" y="681.5" font-size="13.6" text-anchor="end" >6×10</text>
<text x="101.3" y="677.7" font-size="10" >6</text>
<line x1="108" y1="641.1" x2="114" y2="641.1" stroke="#000" stroke-width="1.3" />
<text x="98.8" y="646.2" font-size="13.6" text-anchor="end" >8×10</text>
<text x="101.3" y="642.4" font-size="10" >6</text>
<rect x="120.45" y="694.05" width="9.3" height="88.25" fill="#d3d3d3" stroke="#000" stroke-width="1.2" />
<line x1="125.1" y1="782.3" x2="125.1" y2="787.8" stroke="#000" stroke-width="1.3" />
<rect x="137.65" y="683.46" width="9.3" height="98.84" fill="#5a5a5a" stroke="#000" stroke-width="1.2" />
<line x1="142.3" y1="782.3" x2="142.3" y2="787.8" stroke="#000" stroke-width="1.3" />
<rect x="171.25" y="773.83" width="9.3" height="8.47" fill="#d3d3d3" stroke="#000" stroke-width="1.2" />
<line x1="175.9" y1="782.3" x2="175.9" y2="787.8" stroke="#000" stroke-width="1.3" />
<rect x="188.15" y="763.24" width="9.3" height="19.06" fill="#5a5a5a" stroke="#000" stroke-width="1.2" />
<line x1="192.8" y1="782.3" x2="192.8" y2="787.8" stroke="#000" stroke-width="1.3" />
<rect x="221.45" y="781.95" width="9.3" height="0.35" fill="#d3d3d3" stroke="#000" stroke-width="1.2" />
<line x1="226.1" y1="782.3" x2="226.1" y2="787.8" stroke="#000" stroke-width="1.3" />
<rect x="238.95" y="771.18" width="9.3" height="11.12" fill="#5a5a5a" stroke="#000" stroke-width="1.2" />
<line x1="243.6" y1="782.3" x2="243.6" y2="787.8" stroke="#000" stroke-width="1.3" />
<line x1="125.1" y1="672.87" x2="125.1" y2="712.58" stroke="#000" stroke-width="1" />
<line x1="122.6" y1="712.58" x2="127.6" y2="712.58" stroke="#000" stroke-width="1" />
<polygon points="125.1,670.17 127.66,674.62 122.53,674.62" fill="#000" stroke="#000" stroke-width="0.3"/>
<circle cx="125.1" cy="694.93" r="2.3" fill="#000" stroke="#000" stroke-width="0.1"/>
<polygon points="125.1,705.47 127.66,709.92 122.53,709.92" fill="#000" stroke="#000" stroke-width="0.3"/>
<polygon points="139.8,680.86 142.27,685.15 137.33,685.15" fill="#fff" stroke="#000" stroke-width="0.7"/>
<polygon points="142.3,679.36 144.77,683.65 139.83,683.65" fill="#fff" stroke="#000" stroke-width="0.7"/>
<polygon points="144.8,680.86 147.27,685.15 142.33,685.15" fill="#fff" stroke="#000" stroke-width="0.7"/>
<circle cx="172.9" cy="772.87" r="2.3" fill="#000" stroke="#000" stroke-width="0.1"/>
<circle cx="174.9" cy="773.27" r="2.3" fill="#000" stroke="#000" stroke-width="0.1"/>
<circle cx="176.9" cy="773.27" r="2.3" fill="#000" stroke="#000" stroke-width="0.1"/>
<circle cx="178.9" cy="772.87" r="2.3" fill="#000" stroke="#000" stroke-width="0.1"/>
<polygon points="189.8,759.64 192.27,763.93 187.33,763.93" fill="#fff" stroke="#000" stroke-width="0.7"/>
<polygon points="192.8,759.64 195.27,763.93 190.33,763.93" fill="#fff" stroke="#000" stroke-width="0.7"/>
<polygon points="195.8,759.64 198.27,763.93 193.33,763.93" fill="#fff" stroke="#000" stroke-width="0.7"/>
<circle cx="222.9" cy="781.77" r="2.3" fill="#000" stroke="#000" stroke-width="0.1"/>
<circle cx="226.1" cy="781.77" r="2.3" fill="#000" stroke="#000" stroke-width="0.1"/>
<circle cx="229.3" cy="781.77" r="2.3" fill="#000" stroke="#000" stroke-width="0.1"/>
<polygon points="240.6,767.58 243.07,771.87 238.13,771.87" fill="#fff" stroke="#000" stroke-width="0.7"/>
<polygon points="243.6,767.58 246.07,771.87 241.13,771.87" fill="#fff" stroke="#000" stroke-width="0.7"/>
<polygon points="246.6,767.58 249.07,771.87 244.13,771.87" fill="#fff" stroke="#000" stroke-width="0.7"/>
<polyline points="125.5,664.9 125.5,657.5 142.5,657.5 142.5,670.8" fill="none" stroke="#000" stroke-width="1.25" stroke-linejoin="miter"/>
<text x="133" y="651.1" font-size="7.9" text-anchor="middle" style="stroke-width:0.06px" >0.8058</text>
<polyline points="175.5,759.3 175.5,711.5 193.5,711.5 193.5,748.8" fill="none" stroke="#000" stroke-width="1.25" stroke-linejoin="miter"/>
<text x="183.9" y="706.3" font-size="7.9" text-anchor="middle" style="stroke-width:0.06px" >0.0030</text>
<polyline points="227.5,769.8 227.5,711.5 243.5,711.5 243.5,758.1" fill="none" stroke="#000" stroke-width="1.25" stroke-linejoin="miter"/>
<text x="234.9" y="706.3" font-size="7.9" text-anchor="middle" style="stroke-width:0.06px" >0.0001</text>
<circle cx="169.6" cy="651.1" r="2.4" fill="#000" stroke="#000" stroke-width="0.1"/>
<polygon points="169.6,667.4 171.97,671.52 167.22,671.52" fill="#fff" stroke="#000" stroke-width="0.7"/>
<text x="185.3" y="655.5" font-size="12.2" >siControl</text>
<text x="185.3" y="673.6" font-size="12.2" >si<tspan dx="0.8" font-style="italic">ZFC3H1</tspan></text>
<text transform="translate(129.2,789.9) scale(0.87,1) rotate(-90)" font-size="13.9" text-anchor="end" >siControl</text>
<text transform="translate(146,789.9) scale(0.87,1) rotate(-90)" font-size="13.9" text-anchor="end" >si<tspan dx="0.7" font-style="italic">ZFC3H1</tspan></text>
<text transform="translate(178.8,789.9) scale(0.87,1) rotate(-90)" font-size="13.9" text-anchor="end" >siControl</text>
<text transform="translate(195.7,789.9) scale(0.87,1) rotate(-90)" font-size="13.9" text-anchor="end" >si<tspan dx="0.7" font-style="italic">ZFC3H1</tspan></text>
<text transform="translate(230,789.9) scale(0.87,1) rotate(-90)" font-size="13.9" text-anchor="end" >siControl</text>
<text transform="translate(247.2,789.9) scale(0.87,1) rotate(-90)" font-size="13.9" text-anchor="end" >si<tspan dx="0.7" font-style="italic">ZFC3H1</tspan></text>
<line x1="80.7" y1="864.8" x2="157.4" y2="864.8" stroke="#555" stroke-width="1" />
<line x1="164.4" y1="864.8" x2="206.4" y2="864.8" stroke="#555" stroke-width="1" />
<line x1="216.5" y1="864.8" x2="272.3" y2="864.8" stroke="#555" stroke-width="1" />
<text x="119.3" y="877.7" font-size="13" text-anchor="middle" ><tspan font-style="italic">Opt-mCherry</tspan></text>
<text x="185.2" y="877.7" font-size="13" text-anchor="middle" ><tspan font-style="italic">wtGFP</tspan></text>
<text x="242.4" y="877.7" font-size="13" text-anchor="middle" ><tspan font-style="italic">SNHG19</tspan></text>
<text x="488.4" y="633.9" font-size="15.4" text-anchor="middle" >Co-immunoprecipitated RNA</text>
<text transform="translate(333.6,708.6) rotate(-90)" font-size="15.3" text-anchor="middle" >Relative RNA levels</text>
<text transform="translate(351.8,708.4) rotate(-90)" font-size="15.3" text-anchor="middle" >(IP/Input)</text>
<rect x="381.7" y="641" width="212.5" height="141.3" fill="none" stroke="#000" stroke-width="1.3" />
<line x1="375.8" y1="782.3" x2="381.7" y2="782.3" stroke="#000" stroke-width="1.3" />
<text transform="translate(374.2,787.5) scale(1,1.12)" font-size="13.4" text-anchor="end" >0</text>
<line x1="375.8" y1="747" x2="381.7" y2="747" stroke="#000" stroke-width="1.3" />
<text transform="translate(374.2,752.2) scale(1,1.12)" font-size="13.4" text-anchor="end" >10</text>
<line x1="375.8" y1="711.7" x2="381.7" y2="711.7" stroke="#000" stroke-width="1.3" />
<text transform="translate(374.2,716.9) scale(1,1.12)" font-size="13.4" text-anchor="end" >20</text>
<line x1="375.8" y1="676.4" x2="381.7" y2="676.4" stroke="#000" stroke-width="1.3" />
<text transform="translate(374.2,681.6) scale(1,1.12)" font-size="13.4" text-anchor="end" >30</text>
<line x1="375.8" y1="641.1" x2="381.7" y2="641.1" stroke="#000" stroke-width="1.3" />
<text transform="translate(374.2,646.3) scale(1,1.12)" font-size="13.4" text-anchor="end" >40</text>
<rect x="387.4" y="779.48" width="8" height="2.82" fill="#d3d3d3" stroke="#000" stroke-width="1.2" />
<line x1="391.4" y1="782.3" x2="391.4" y2="787.8" stroke="#000" stroke-width="1.3" />
<rect x="402.3" y="771.71" width="8" height="10.59" fill="#d3d3d3" stroke="#000" stroke-width="1.2" />
<line x1="406.3" y1="782.3" x2="406.3" y2="787.8" stroke="#000" stroke-width="1.3" />
<rect x="417" y="780.18" width="8" height="2.12" fill="#5a5a5a" stroke="#000" stroke-width="1.2" />
<line x1="421" y1="782.3" x2="421" y2="787.8" stroke="#000" stroke-width="1.3" />
<rect x="431.7" y="775.24" width="8" height="7.06" fill="#5a5a5a" stroke="#000" stroke-width="1.2" />
<line x1="435.7" y1="782.3" x2="435.7" y2="787.8" stroke="#000" stroke-width="1.3" />
<rect x="460.9" y="779.48" width="8" height="2.82" fill="#d3d3d3" stroke="#000" stroke-width="1.2" />
<line x1="464.9" y1="782.3" x2="464.9" y2="787.8" stroke="#000" stroke-width="1.3" />
<rect x="475.7" y="684.52" width="8" height="97.78" fill="#d3d3d3" stroke="#000" stroke-width="1.2" />
<line x1="479.7" y1="782.3" x2="479.7" y2="787.8" stroke="#000" stroke-width="1.3" />
<rect x="490.3" y="780.18" width="8" height="2.12" fill="#5a5a5a" stroke="#000" stroke-width="1.2" />
<line x1="494.3" y1="782.3" x2="494.3" y2="787.8" stroke="#000" stroke-width="1.3" />
<rect x="505.2" y="753" width="8" height="29.3" fill="#5a5a5a" stroke="#000" stroke-width="1.2" />
<line x1="509.2" y1="782.3" x2="509.2" y2="787.8" stroke="#000" stroke-width="1.3" />
<rect x="534.6" y="779.48" width="8" height="2.82" fill="#d3d3d3" stroke="#000" stroke-width="1.2" />
<line x1="538.6" y1="782.3" x2="538.6" y2="787.8" stroke="#000" stroke-width="1.3" />
<rect x="549.8" y="721.94" width="8" height="60.36" fill="#d3d3d3" stroke="#000" stroke-width="1.2" />
<line x1="553.8" y1="782.3" x2="553.8" y2="787.8" stroke="#000" stroke-width="1.3" />
<rect x="564.5" y="780.18" width="8" height="2.12" fill="#5a5a5a" stroke="#000" stroke-width="1.2" />
<line x1="568.5" y1="782.3" x2="568.5" y2="787.8" stroke="#000" stroke-width="1.3" />
<rect x="579.2" y="769.94" width="8" height="12.36" fill="#5a5a5a" stroke="#000" stroke-width="1.2" />
<line x1="583.2" y1="782.3" x2="583.2" y2="787.8" stroke="#000" stroke-width="1.3" />
<circle cx="388.4" cy="780.89" r="2.4" fill="#000" stroke="#000" stroke-width="0.1"/>
<circle cx="391.4" cy="778.42" r="2.4" fill="#000" stroke="#000" stroke-width="0.1"/>
<circle cx="394.4" cy="779.48" r="2.4" fill="#000" stroke="#000" stroke-width="0.1"/>
<circle cx="403.3" cy="773.12" r="2.4" fill="#000" stroke="#000" stroke-width="0.1"/>
<circle cx="406.3" cy="770.65" r="2.4" fill="#000" stroke="#000" stroke-width="0.1"/>
<circle cx="409.3" cy="771.71" r="2.4" fill="#000" stroke="#000" stroke-width="0.1"/>
<polygon points="418,777.08 420.47,781.37 415.53,781.37" fill="#fff" stroke="#000" stroke-width="0.7"/>
<polygon points="421,774.96 423.47,779.25 418.53,779.25" fill="#fff" stroke="#000" stroke-width="0.7"/>
<polygon points="424,777.08 426.47,781.37 421.53,781.37" fill="#fff" stroke="#000" stroke-width="0.7"/>
<polygon points="432.7,772.14 435.17,776.43 430.23,776.43" fill="#fff" stroke="#000" stroke-width="0.7"/>
<polygon points="435.7,770.02 438.17,774.31 433.23,774.31" fill="#fff" stroke="#000" stroke-width="0.7"/>
<polygon points="438.7,772.14 441.17,776.43 436.23,776.43" fill="#fff" stroke="#000" stroke-width="0.7"/>
<circle cx="461.9" cy="780.89" r="2.4" fill="#000" stroke="#000" stroke-width="0.1"/>
<circle cx="464.9" cy="778.42" r="2.4" fill="#000" stroke="#000" stroke-width="0.1"/>
<circle cx="467.9" cy="779.48" r="2.4" fill="#000" stroke="#000" stroke-width="0.1"/>
<circle cx="476.7" cy="685.93" r="2.4" fill="#000" stroke="#000" stroke-width="0.1"/>
<circle cx="479.7" cy="683.46" r="2.4" fill="#000" stroke="#000" stroke-width="0.1"/>
<circle cx="482.7" cy="684.52" r="2.4" fill="#000" stroke="#000" stroke-width="0.1"/>
<polygon points="491.3,777.08 493.77,781.37 488.83,781.37" fill="#fff" stroke="#000" stroke-width="0.7"/>
<polygon points="494.3,774.96 496.77,779.25 491.83,779.25" fill="#fff" stroke="#000" stroke-width="0.7"/>
<polygon points="497.3,777.08 499.77,781.37 494.83,781.37" fill="#fff" stroke="#000" stroke-width="0.7"/>
<polygon points="506.2,749.9 508.67,754.19 503.73,754.19" fill="#fff" stroke="#000" stroke-width="0.7"/>
<polygon points="509.2,747.78 511.67,752.07 506.73,752.07" fill="#fff" stroke="#000" stroke-width="0.7"/>
<polygon points="512.2,749.9 514.67,754.19 509.73,754.19" fill="#fff" stroke="#000" stroke-width="0.7"/>
<circle cx="535.6" cy="780.89" r="2.4" fill="#000" stroke="#000" stroke-width="0.1"/>
<circle cx="538.6" cy="778.42" r="2.4" fill="#000" stroke="#000" stroke-width="0.1"/>
<circle cx="541.6" cy="779.48" r="2.4" fill="#000" stroke="#000" stroke-width="0.1"/>
<circle cx="550.8" cy="723.35" r="2.4" fill="#000" stroke="#000" stroke-width="0.1"/>
<circle cx="553.8" cy="720.88" r="2.4" fill="#000" stroke="#000" stroke-width="0.1"/>
<circle cx="556.8" cy="721.94" r="2.4" fill="#000" stroke="#000" stroke-width="0.1"/>
<polygon points="565.5,777.08 567.97,781.37 563.03,781.37" fill="#fff" stroke="#000" stroke-width="0.7"/>
<polygon points="568.5,774.96 570.97,779.25 566.03,779.25" fill="#fff" stroke="#000" stroke-width="0.7"/>
<polygon points="571.5,777.08 573.97,781.37 569.03,781.37" fill="#fff" stroke="#000" stroke-width="0.7"/>
<polygon points="580.2,766.84 582.67,771.13 577.73,771.13" fill="#fff" stroke="#000" stroke-width="0.7"/>
<polygon points="583.2,764.73 585.67,769.02 580.73,769.02" fill="#fff" stroke="#000" stroke-width="0.7"/>
<polygon points="586.2,766.84 588.67,771.13 583.73,771.13" fill="#fff" stroke="#000" stroke-width="0.7"/>
<polyline points="406.5,759.6 406.5,666.5 435.5,666.5 435.5,762.8" fill="none" stroke="#000" stroke-width="1.25" stroke-linejoin="miter"/>
<text x="421" y="659.9" font-size="7.9" text-anchor="middle" style="stroke-width:0.06px" >0.6020</text>
<polyline points="479.5,673.2 479.5,665.5 509.5,665.5 509.5,739.8" fill="none" stroke="#000" stroke-width="1.25" stroke-linejoin="miter"/>
<text x="494.5" y="660.4" font-size="7.9" text-anchor="middle" style="stroke-width:0.06px" >&lt;0.0001</text>
<polyline points="553.5,711.8 553.5,665.5 583.5,665.5 583.5,765.5" fill="none" stroke="#000" stroke-width="1.25" stroke-linejoin="miter"/>
<text x="568.5" y="660.4" font-size="7.9" text-anchor="middle" style="stroke-width:0.06px" >&lt;0.0001</text>
<circle cx="601.8" cy="650.7" r="2.5" fill="#000" stroke="#000" stroke-width="0.1"/>
<polygon points="601.8,667.2 604.17,671.33 599.42,671.33" fill="#fff" stroke="#000" stroke-width="0.7"/>
<text x="617.6" y="654.8" font-size="12.2" >siControl</text>
<text x="617.6" y="673.8" font-size="12.2" >si<tspan dx="0.8" font-style="italic">ZFC3H1</tspan></text>
<text transform="translate(395.5,790.3) scale(0.87,1) rotate(-90)" font-size="13.8" text-anchor="end" >IgG IP</text>
<text transform="translate(410.4,790.3) scale(0.87,1) rotate(-90)" font-size="13.8" text-anchor="end" >PABPN1 IP</text>
<text transform="translate(425.1,790.3) scale(0.87,1) rotate(-90)" font-size="13.8" text-anchor="end" >IgG IP</text>
<text transform="translate(439.8,790.3) scale(0.87,1) rotate(-90)" font-size="13.8" text-anchor="end" >PABPN1 IP</text>
<text transform="translate(469,790.3) scale(0.87,1) rotate(-90)" font-size="13.8" text-anchor="end" >IgG IP</text>
<text transform="translate(483.8,790.3) scale(0.87,1) rotate(-90)" font-size="13.8" text-anchor="end" >PABPN1 IP</text>
<text transform="translate(498.4,790.3) scale(0.87,1) rotate(-90)" font-size="13.8" text-anchor="end" >IgG IP</text>
<text transform="translate(513.3,790.3) scale(0.87,1) rotate(-90)" font-size="13.8" text-anchor="end" >PABPN1 IP</text>
<text transform="translate(542.7,790.3) scale(0.87,1) rotate(-90)" font-size="13.8" text-anchor="end" >IgG IP</text>
<text transform="translate(557.9,790.3) scale(0.87,1) rotate(-90)" font-size="13.8" text-anchor="end" >PABPN1 IP</text>
<text transform="translate(572.6,790.3) scale(0.87,1) rotate(-90)" font-size="13.8" text-anchor="end" >IgG IP</text>
<text transform="translate(587.3,790.3) scale(0.87,1) rotate(-90)" font-size="13.8" text-anchor="end" >PABPN1 IP</text>
<line x1="376.7" y1="864" x2="453.3" y2="864" stroke="#555" stroke-width="1" />
<line x1="467.4" y1="864" x2="508.3" y2="864" stroke="#555" stroke-width="1" />
<line x1="529.5" y1="864" x2="584.9" y2="864" stroke="#555" stroke-width="1" />
<text x="415" y="877.4" font-size="13" text-anchor="middle" ><tspan font-style="italic">Opt-mCherry</tspan></text>
<text x="488" y="877.4" font-size="13" text-anchor="middle" ><tspan font-style="italic">wtGFP</tspan></text>
<text x="556.3" y="877.4" font-size="13" text-anchor="middle" ><tspan font-style="italic">SNHG19</tspan></text>
</svg>
</body></html>
